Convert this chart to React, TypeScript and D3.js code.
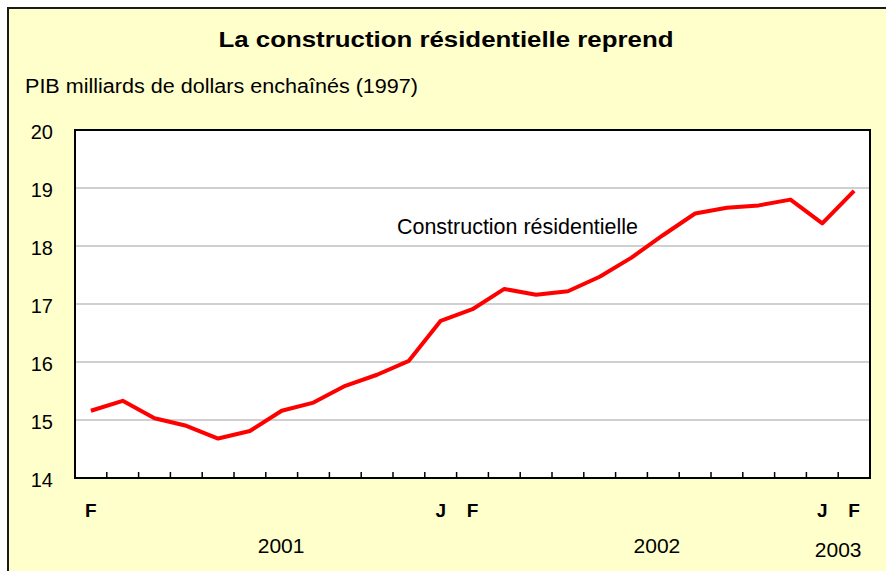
import React from "react";
import * as d3 from "d3";

const title = "La construction résidentielle reprend";
const subtitle = "PIB milliards de dollars enchaînés (1997)";
const seriesName = "Construction résidentielle";

const months = ["F","M","A","M","J","J","A","S","O","N","D","J","F","M","A","M","J","J","A","S","O","N","D","J","F"];
const shownMonths = ["F","","","","","","","","","","","J","F","","","","","","","","","","","J","F"];
const values = [15.16,15.33,15.03,14.90,14.68,14.81,15.16,15.30,15.59,15.78,16.02,16.71,16.91,17.26,17.16,17.22,17.47,17.80,18.19,18.56,18.66,18.70,18.80,18.39,18.95];
const yTicks = [14, 15, 16, 17, 18, 19, 20];
const years = ["2001", "2002", "2003"];
const yearAnchors = [6.48, 18.3, 24.0]; // in category units from left edge

const W = 886, H = 571;
const M = { left: 75, right: 870, top: 130, bottom: 478 };

export default function App() {
  const idx = months.map((_, i) => i);
  const x = d3.scaleBand<number>().domain(idx).range([M.left, M.right]).padding(0);
  const y = d3.scaleLinear().domain([14, 20]).range([M.bottom, M.top]);
  const bw = x.bandwidth();
  const line = d3.line<number>()
    .x((_, i) => (x(i) as number) + bw / 2)
    .y((d) => y(d));
  const font = "'Liberation Sans', Arial, sans-serif";
  const boundaries = d3.range(1, months.length);

  return (
    <svg width={W} height={H} style={{ position: "absolute", left: 0, top: 0 }} fontFamily={font}>
      <rect x={0} y={0} width={W} height={H} fill="#fff" />
      <rect x={8} y={8} width={W + 20} height={H + 20} fill="#FFFFCC" stroke="#1a1a1a" strokeWidth={2} />
      <text x={446} y={47} textAnchor="middle" fontSize={22} fontWeight="bold" textLength={455} lengthAdjust="spacingAndGlyphs" fill="#000">{title}</text>
      <text x={25} y={92.5} fontSize={19.5} textLength={393} lengthAdjust="spacingAndGlyphs" fill="#000">{subtitle}</text>

      <rect x={M.left} y={M.top} width={M.right - M.left} height={M.bottom - M.top} fill="#fff" />
      {yTicks.filter(t => t > 14 && t < 20).map(t => (
        <line key={t} x1={M.left} x2={M.right} y1={y(t)} y2={y(t)} stroke="#c0c0c0" strokeWidth={1.5} />
      ))}
      <rect x={M.left} y={M.top} width={M.right - M.left} height={M.bottom - M.top} fill="none" stroke="#000" strokeWidth={2} />
      {boundaries.map(b => (
        <line key={b} x1={x(b) as number} x2={x(b) as number} y1={M.bottom} y2={M.bottom - 6} stroke="#000" strokeWidth={1.5} />
      ))}
      {yTicks.map(t => (
        <text key={t} x={53} y={y(t) + 9} textAnchor="end" fontSize={20} fill="#000">{t}</text>
      ))}
      <path d={line(values) || ""} fill="none" stroke="#ff0000" strokeWidth={4} strokeLinejoin="round" />
      <text x={397} y={234} fontSize={21.5} textLength={241} lengthAdjust="spacingAndGlyphs" fill="#000">{seriesName}</text>

      {shownMonths.map((m, i) => m ? (
        <text key={i} x={(x(i) as number) + bw / 2} y={516.5} textAnchor="middle" fontSize={19} fontWeight="bold" fill="#000">{m}</text>
      ) : null)}
      {years.map((yr, i) => (
        <text key={yr} x={M.left + yearAnchors[i] * bw} y={i === 2 ? 557 : 553} textAnchor="middle" fontSize={21} fill="#000">{yr}</text>
      ))}
    </svg>
  );
}
